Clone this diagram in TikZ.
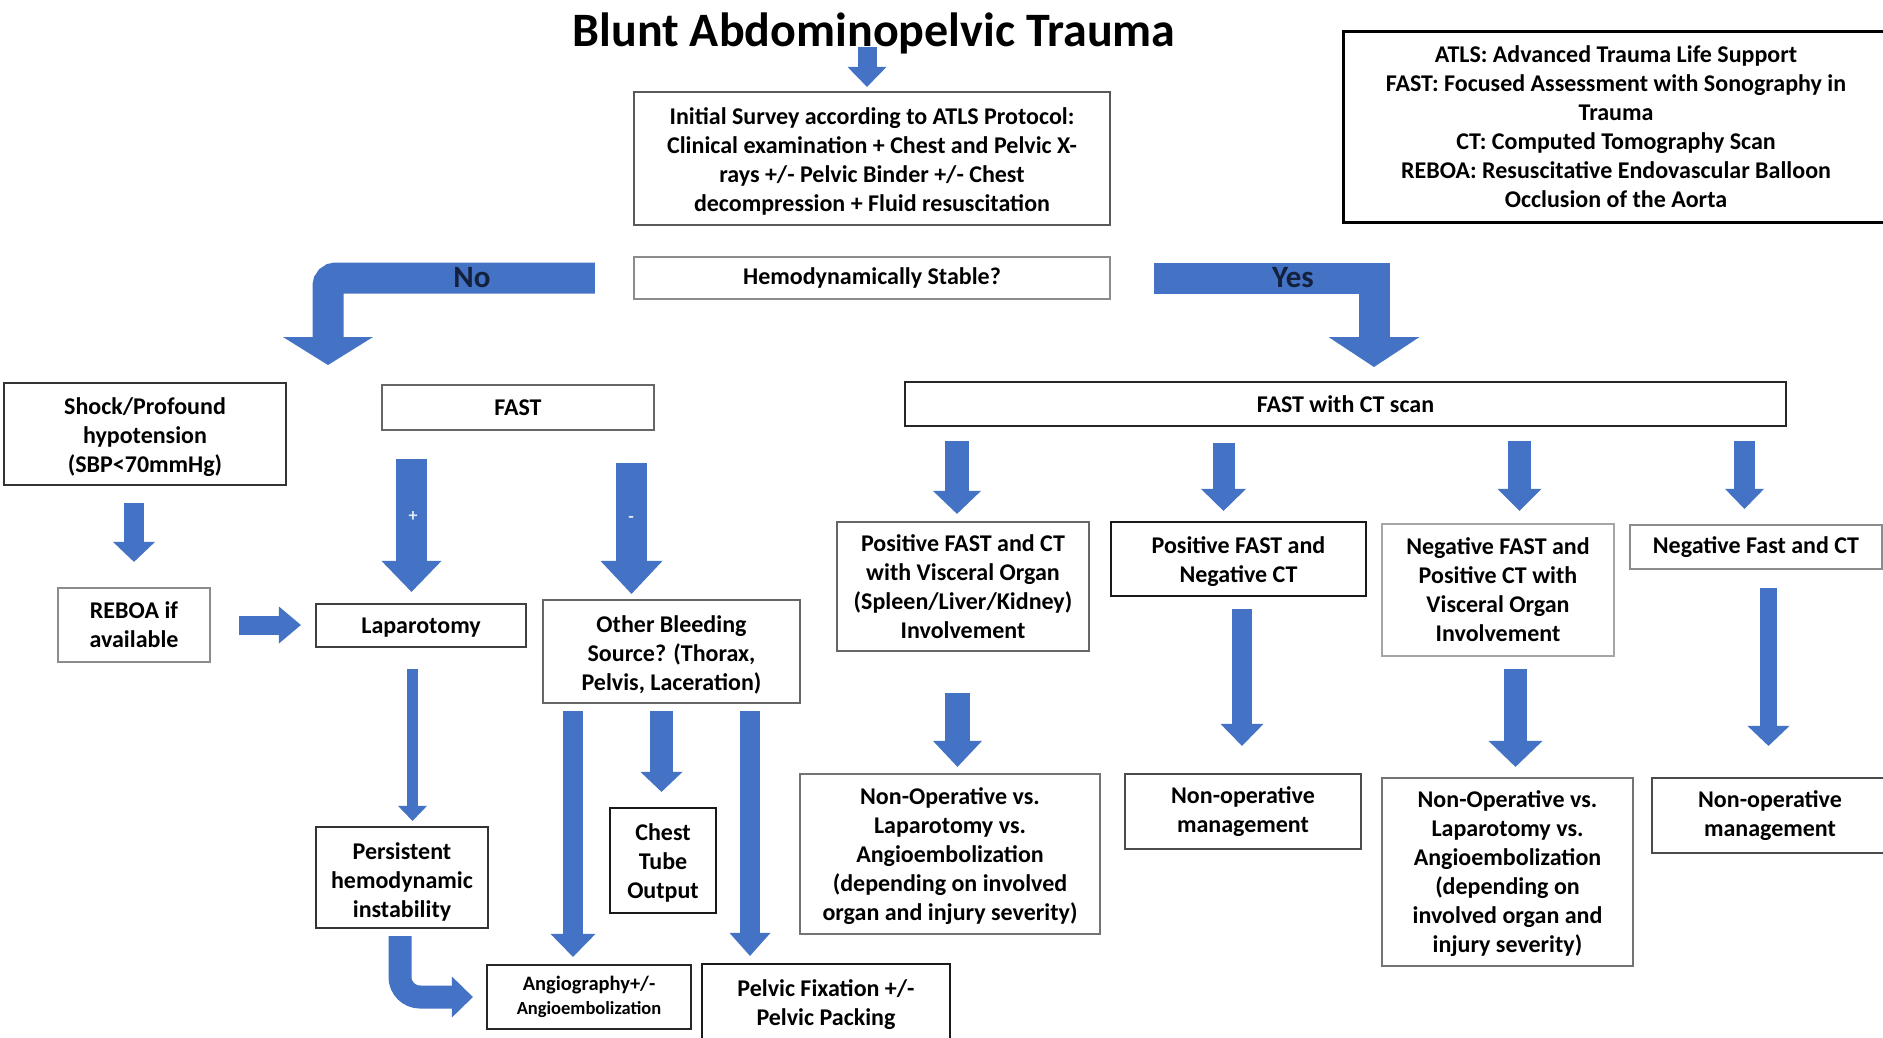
\documentclass[tikz,border=0pt]{standalone}
\usepackage{fontspec}
\setmainfont{Carlito}
\usetikzlibrary{arrows.meta,calc}
\definecolor{ablue}{HTML}{4472C4}
\definecolor{navy}{HTML}{14213D}
\newcommand\lowtext[2]{\raisebox{-#1}[\height][\depth]{\begin{tabular}{@{}c@{}}#2\end{tabular}}}
\begin{document}
\begin{tikzpicture}[x=1pt,y=-1pt,
  bx/.style={draw=#1, line width=2.2pt, fill=white, align=center, inner sep=0pt, text=black,
    font=\fontsize{24}{29}\selectfont\bfseries},
  bx/.default=black!70,
  barrow/.style n args={3}{draw=ablue, line width=#1pt, -{Triangle[width=#2pt,length=#3pt,line width=0pt]}},
  lbl/.style={text=navy, font=\fontsize{31}{31}\selectfont\bfseries, inner sep=0pt},
  pm/.style={text=white!85!ablue, font=\fontsize{18}{18}\selectfont\bfseries, inner sep=0pt}
]
\useasboundingbox (0,0) rectangle (1883,1037);
\clip (0,0) rectangle (1883,1037);
\fill[white] (0,0) rectangle (1883,1037);

% title
\node[font=\fontsize{48}{50}\selectfont\bfseries, inner sep=0pt] (title) at (874,33) {Blunt Abdominopelvic Trauma};

% top boxes
\node[bx=black!65, minimum width=476pt, minimum height=133pt] (init) at (872,158.5)
  {\lowtext{4pt}{Initial Survey according to ATLS Protocol:\\ Clinical examination + Chest and Pelvic X-\\ rays +/- Pelvic Binder +/- Chest\\ decompression + Fluid resuscitation}};
\node[bx=black!45, minimum width=476pt, minimum height=42pt] (hemo) at (872,278) {Hemodynamically Stable?};
\node[bx=black, line width=3pt, minimum width=546pt, minimum height=191pt] (legend) at (1616,126.5)
  {ATLS: Advanced Trauma Life Support\\ FAST: Focused Assessment with Sonography in\\ Trauma\\ CT: Computed Tomography Scan\\ REBOA: Resuscitative Endovascular Balloon\\ Occlusion of the Aorta};

% left branch
\node[bx=black!80, minimum width=282pt, minimum height=102pt] (shock) at (145,434) {\lowtext{4pt}{Shock/Profound\\ hypotension\\ (SBP<70mmHg)}};
\node[bx=black!60, minimum width=272pt, minimum height=45pt] (fast) at (518,407.5) {FAST};
\node[bx=black!45, minimum width=152pt, minimum height=74pt] (reboa) at (134,625) {REBOA if\\ available};
\node[bx=black!75, minimum width=210pt, minimum height=43pt] (lap) at (421,625.5) {\lowtext{2pt}{Laparotomy}};
\node[bx=black!60, minimum width=257pt, minimum height=103pt] (other) at (671.5,651.5) {\lowtext{4pt}{Other Bleeding\\ Source? (Thorax,\\ Pelvis, Laceration)}};
\node[bx=black!80, minimum width=172pt, minimum height=101pt] (pers) at (402,877.5) {\lowtext{5pt}{Persistent\\ hemodynamic\\ instability}};
\node[bx=black!90, minimum width=106pt, minimum height=105pt] (chest) at (663,860.5) {\lowtext{3pt}{Chest\\ Tube\\ Output}};
\node[bx=black!85, minimum width=204pt, minimum height=64pt, font=\fontsize{20.5}{24}\selectfont\bfseries] (angio) at (589,997)
  {Angiography+/-\\ {\fontsize{18.5}{24}\selectfont Angioembolization}};
\node[bx=black!90, minimum width=248pt, minimum height=82pt] (pelvic) at (826,1005) {Pelvic Fixation +/-\\ Pelvic Packing};

% right branch
\node[bx=black!85, minimum width=881pt, minimum height=44pt] (fct) at (1345.5,404) {FAST with CT scan};
\node[bx=black!60, minimum width=252pt, minimum height=129pt] (A) at (963,586.5) {Positive FAST and CT\\ with Visceral Organ\\ (Spleen/Liver/Kidney)\\ Involvement};
\node[bx=black!90, minimum width=255pt, minimum height=74pt] (B) at (1238.5,559) {\lowtext{3pt}{Positive FAST and\\ Negative CT}};
\node[bx=black!35, minimum width=232pt, minimum height=132pt] (C) at (1498,590) {Negative FAST and\\ Positive CT with\\ Visceral Organ\\ Involvement};
\node[bx=black!45, minimum width=252pt, minimum height=44pt] (D) at (1756,547) {Negative Fast and CT};
\node[bx=black!55, minimum width=300pt, minimum height=160pt] (A2) at (950,854) {\lowtext{2.5pt}{Non-Operative vs.\\ Laparotomy vs.\\ Angioembolization\\ (depending on involved\\ organ and injury severity)}};
\node[bx=black!70, minimum width=236pt, minimum height=75pt] (B2) at (1243,811.5) {Non-operative\\ management};
\node[bx=black!55, minimum width=251pt, minimum height=188pt] (C2) at (1507.5,872) {\lowtext{2.5pt}{Non-Operative vs.\\ Laparotomy vs.\\ Angioembolization\\ (depending on\\ involved organ and\\ injury severity)}};
\node[bx=black!70, minimum width=236pt, minimum height=75pt] (D2) at (1770,815.5) {Non-operative\\ management};

% arrows
\coordinate (t0) at (867,47);
\draw[barrow={19}{39}{20}, shorten >=4pt] (t0) -- (t0 |- init.north);

\coordinate (noTip) at (328,365);
\draw[barrow={31}{90}{28}, rounded corners=8pt, shorten <=38pt] (hemo.west) -| (noTip);
\coordinate (yesTip) at (1374,367);
\draw[barrow={31}{91}{30}, shorten <=43pt] (hemo.east) -| (yesTip);
\node[lbl] (nolbl) at (472,278) {No};
\node[lbl] (yeslbl) at (1293,278) {Yes};

\coordinate (xa) at (134,0);
\draw[barrow={20}{42}{20}, shorten <=17pt, shorten >=25pt] (xa |- shock.south) -- (xa |- reboa.north);
\draw[barrow={19}{37}{22}, shorten <=28pt, shorten >=14pt] (reboa.east) -- (reboa.east -| lap.west);

\coordinate (xp) at (411.5,0);
\draw[barrow={31}{60}{31}, shorten <=28pt, shorten >=11pt] (xp |- fast.south) -- (xp |- lap.north);
\coordinate (xm) at (631.5,0);
\draw[barrow={31}{62}{33}, shorten <=32pt, shorten >=5pt] (xm |- fast.south) -- (xm |- other.north);
\node[pm] (plus) at (413,517) {+};
\node[pm] (minus) at (631,519) {-};

\coordinate (xl) at (412.5,0);
\draw[barrow={11}{29}{15}, shorten <=21pt, shorten >=5pt] (xl |- lap.south) -- (xl |- pers.north);

\coordinate (xo1) at (573,0);
\coordinate (xo2) at (661.5,0);
\coordinate (xo3) at (750,0);
\draw[barrow={20}{45}{23}, shorten <=7pt, shorten >=7pt] (xo1 |- other.south) -- (xo1 |- angio.north);
\draw[barrow={23}{42}{20}, shorten <=7pt, shorten >=15pt] (xo2 |- other.south) -- (xo2 |- chest.north);
\draw[barrow={20}{41}{23}, shorten <=7pt, shorten >=7pt] (xo3 |- other.south) -- (xo3 |- pelvic.north);

\coordinate (xc) at (400,0);
\draw[barrow={23}{41}{21}, rounded corners=20pt, shorten <=7pt, shorten >=13pt] (xc |- pers.south) |- (angio.west);

\coordinate (xA) at (957,0);
\coordinate (xB) at (1223.5,0);
\coordinate (xC) at (1519.5,0);
\coordinate (xD) at (1744.5,0);
\draw[barrow={24}{48}{23}, shorten <=14pt, shorten >=7pt] (xA |- fct.south) -- (xA |- A.north);
\draw[barrow={22}{45}{22}, shorten <=16pt, shorten >=10pt] (xB |- fct.south) -- (xB |- B.north);
\draw[barrow={23}{44}{22}, shorten <=14pt, shorten >=12pt] (xC |- fct.south) -- (xC |- C.north);
\draw[barrow={21}{39}{20}, shorten <=14pt, shorten >=15pt] (xD |- fct.south) -- (xD |- D.north);

\coordinate (xA2) at (957.5,0);
\coordinate (xB2) at (1242,0);
\coordinate (xC2) at (1515.5,0);
\coordinate (xD2) at (1768.5,0);
\draw[barrow={25}{49}{26}, shorten <=41pt, shorten >=6pt] (xA2 |- A.south) -- (xA2 |- A2.north);
\draw[barrow={20}{43}{22}, shorten <=12pt, shorten >=27pt] (xB2 |- B.south) -- (xB2 |- B2.north);
\draw[barrow={23}{54}{26}, shorten <=12pt, shorten >=10pt] (xC2 |- C.south) -- (xC2 |- C2.north);
\draw[barrow={17}{42}{20}, shorten <=18pt, shorten >=31pt] (xD2 |- D.south) -- (xD2 |- D2.north);
\end{tikzpicture}
\end{document}
